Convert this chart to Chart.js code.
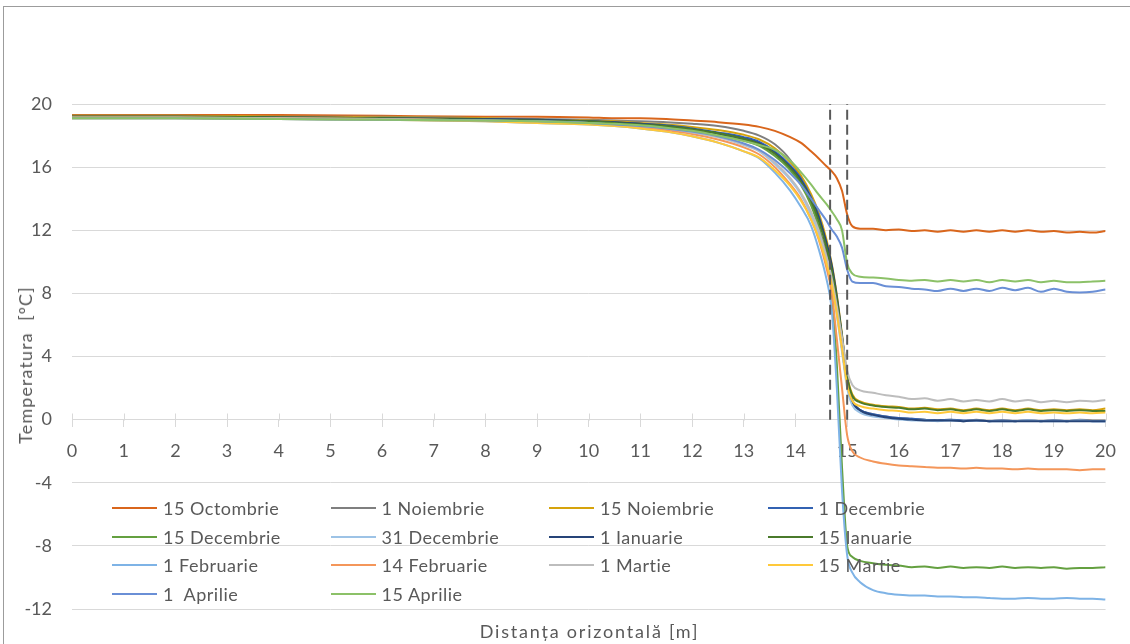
<!DOCTYPE html>
<html>
<head>
<meta charset="utf-8">
<script src="https://cdn.jsdelivr.net/npm/chart.js@4/dist/chart.umd.min.js"></script>
<style>
  html, body { margin: 0; padding: 0; background: #fff; overflow: hidden; }
  #wrap { position: relative; width: 1130px; height: 644px; }
  #frame { position: absolute; left: 3px; top: 6px; width: 1140px; height: 660px;
           border-left: 1px solid #9c9c9c; border-top: 1px solid #9c9c9c; box-sizing: border-box; }
  canvas { position: absolute; left: 0; top: 0; }
  #legend { position: absolute; left: 112px; top: 494px; display: grid;
            grid-template-columns: repeat(4, 218.5px); grid-auto-rows: 28.5px;
            font: 18px Lato, sans-serif; color: #595959; letter-spacing: 0.5px; }
  .item { display: flex; align-items: center; white-space: nowrap; }
  .swatch { width: 45px; height: 2px; margin-right: 6px; flex: none; }
  .axis-title { position: absolute; font: 18px Lato, sans-serif; color: #595959;
                white-space: pre; line-height: 22px; }
  #xTitle { left: 72px; width: 1035px; top: 620px; text-align: center; letter-spacing: 1.8px; }
  #yTitle { left: 25px; top: 365px; transform: translate(-50%, -50%) rotate(-90deg);
            letter-spacing: 1.1px; }
</style>
</head>
<body>
<div id="wrap">
  <div id="frame"></div>
  <canvas id="chart" width="1130" height="644"></canvas>
  <div id="legend"></div>
  <div id="xTitle" class="axis-title"></div>
  <div id="yTitle" class="axis-title"></div>
</div>
<script>
// Horizontal distance [m] at which temperatures are sampled
const distance = [0, 2, 4, 6, 8, 9, 10, 10.5, 11, 11.5, 12, 12.5, 13, 13.3, 13.6, 13.9, 14.1, 14.3, 14.45, 14.6,
  14.7, 14.8, 14.9, 15, 15.1, 15.25, 15.5, 15.75, 16, 16.25, 16.5, 16.75, 17, 17.25, 17.5, 17.75, 18, 18.25,
  18.5, 18.75, 19, 19.25, 19.5, 19.75, 20];

// Temperature profiles [°C] for each date
const t15Oct = [19.3,19.3,19.3,19.25,19.2, 19.2,19.15,19.1,19.1,19.05, 18.95,18.85,18.7,18.55,18.3,
  17.9,17.55,17.0,16.55,16.05, 15.75,15.3,14.5,13.0,12.25, 12.1,12.1,12.0,12.05,11.95,
  12.0,11.9,12.0,11.9,12.0, 11.9,12.0,11.9,12.0,11.9, 11.95,11.85,11.9,11.85,11.95];
const t1Nov = [19.25,19.25,19.2,19.2,19.1, 19.05,19.0,18.95,18.9,18.85, 18.75,18.6,18.3,18.0,17.45,
  16.45,15.3,13.8,12.2,10.6, 9.5,7.3,4.5,2.3,1.2, 0.6,0.35,0.2,0.1,0.05,
  0.0,-0.05,0.0,-0.1,0.0, -0.1,-0.05,-0.1,-0.05,-0.1, -0.05,-0.1,0.0,-0.05,-0.05];
const t15Nov = [19.25,19.25,19.2,19.15,19.1, 19.0,18.95,18.9,18.8,18.7, 18.55,18.35,18.05,17.75,17.2,
  16.3,15.5,14.3,13.1,11.4, 9.9,7.9,5.4,2.8,1.6, 1.15,0.95,0.85,0.8,0.7,
  0.75,0.65,0.7,0.6,0.7, 0.6,0.7,0.6,0.7,0.6, 0.65,0.6,0.65,0.6,0.7];
const t1Dec = [19.2,19.2,19.15,19.1,19.05, 19.0,18.9,18.85,18.75,18.65, 18.45,18.2,17.9,17.6,17.0,
  16.1,15.3,14.1,12.9,11.1, 9.6,7.5,5.0,2.4,1.1, 0.6,0.35,0.2,0.1,0.05,
  0.0,-0.05,0.0,-0.05,-0.05, -0.1,-0.05,-0.1,-0.05,-0.1, -0.05,-0.1,-0.05,-0.1,-0.1];
const t15Dec = [19.15,19.15,19.1,19.05,19.0, 18.95,18.85,18.8,18.7,18.55, 18.35,18.1,17.7,17.35,16.7,
  15.8,14.9,13.6,12.2,10.0, 8.0,3.5,-3.0,-8.0,-8.7, -8.95,-9.1,-9.2,-9.25,-9.35,
  -9.3,-9.4,-9.3,-9.4,-9.35, -9.4,-9.3,-9.4,-9.35,-9.4, -9.35,-9.45,-9.4,-9.4,-9.35];
const t31Dec = [19.15,19.15,19.1,19.05,18.95, 18.9,18.8,18.7,18.6,18.45, 18.2,17.9,17.4,17.0,16.2,
  15.2,14.3,13.0,11.8,10.0, 8.6,6.6,4.3,2.0,0.9, 0.45,0.2,0.1,0.0,-0.05,
  -0.05,-0.1,-0.05,-0.1,-0.05, -0.1,-0.1,-0.1,-0.05,-0.1, -0.1,-0.1,-0.05,-0.1,-0.1];
const t1Jan = [19.2,19.2,19.15,19.1,19.05, 19.0,18.9,18.85,18.75,18.6, 18.4,18.15,17.8,17.5,16.9,
  16.0,15.2,14.0,12.8,11.2, 9.8,7.8,5.3,2.6,1.2, 0.6,0.3,0.15,0.05,0.0,
  -0.05,-0.05,-0.05,-0.1,-0.05, -0.1,-0.1,-0.1,-0.1,-0.1, -0.1,-0.1,-0.1,-0.1,-0.1];
const t15Jan = [19.2,19.2,19.15,19.1,19.0, 18.95,18.9,18.8,18.7,18.6, 18.4,18.15,17.8,17.45,16.85,
  15.95,15.1,13.9,12.6,10.9, 9.5,7.6,5.2,2.7,1.5, 1.1,0.9,0.8,0.75,0.65,
  0.7,0.6,0.65,0.55,0.65, 0.55,0.65,0.55,0.65,0.55, 0.6,0.55,0.6,0.55,0.55];
const t1Feb = [19.1,19.1,19.05,19.0,18.9, 18.8,18.7,18.6,18.45,18.25, 17.95,17.55,17.0,16.55,15.65,
  14.5,13.5,12.3,10.8,8.9, 7.0,2.0,-4.5,-8.6,-9.7, -10.3,-10.8,-11.0,-11.1,-11.15,
  -11.15,-11.2,-11.2,-11.25,-11.25, -11.3,-11.35,-11.35,-11.3,-11.35, -11.35,-11.3,-11.35,-11.35,-11.4];
const t14Feb = [19.15,19.15,19.1,19.05,18.95, 18.85,18.75,18.65,18.55,18.35, 18.1,17.75,17.25,16.8,16.0,
  14.9,14.0,12.7,11.4,9.6, 8.1,5.1,2.0,-1.0,-2.0, -2.4,-2.65,-2.8,-2.9,-2.95,
  -3.0,-3.05,-3.05,-3.1,-3.05, -3.1,-3.1,-3.15,-3.1,-3.15, -3.15,-3.15,-3.2,-3.15,-3.15];
const t1Mar = [19.15,19.15,19.1,19.05,18.95, 18.9,18.8,18.7,18.6,18.45, 18.2,17.9,17.45,17.05,16.3,
  15.3,14.4,13.2,12.0,10.3, 9.0,7.2,5.2,3.1,2.2, 1.85,1.7,1.55,1.45,1.3,
  1.35,1.2,1.3,1.15,1.25, 1.15,1.3,1.15,1.25,1.1, 1.2,1.1,1.2,1.15,1.25];
const t15Mar = [19.1,19.1,19.05,19.0,18.9, 18.8,18.7,18.6,18.45,18.25, 17.95,17.55,17.0,16.6,15.8,
  14.8,13.9,12.7,11.5,9.9, 8.6,6.7,4.5,2.2,1.2, 0.85,0.7,0.6,0.55,0.45,
  0.5,0.4,0.5,0.4,0.5, 0.4,0.5,0.4,0.5,0.4, 0.45,0.4,0.45,0.4,0.45];
const t1Apr = [19.1,19.1,19.05,19.0,18.95, 18.9,18.8,18.7,18.6,18.45, 18.25,17.95,17.5,17.1,16.45,
  15.6,14.9,14.0,13.3,12.6, 12.05,11.6,10.9,9.5,8.75, 8.65,8.65,8.45,8.4,8.3,
  8.25,8.15,8.3,8.15,8.3, 8.15,8.35,8.2,8.35,8.1, 8.3,8.1,8.05,8.1,8.25];
const t15Apr = [19.1,19.1,19.05,19.0,18.95, 18.9,18.8,18.75,18.65,18.5, 18.3,18.0,17.65,17.4,17.1,
  16.4,15.7,14.9,14.25,13.65, 13.2,12.7,12.0,9.9,9.25, 9.05,9.0,8.95,8.85,8.8,
  8.85,8.75,8.85,8.75,8.85, 8.7,8.85,8.75,8.85,8.7, 8.8,8.7,8.7,8.75,8.8];

const seriesNames = ['15 Octombrie', '1 Noiembrie', '15 Noiembrie', '1 Decembrie', '15 Decembrie',
  '31 Decembrie', '1 Ianuarie', '15 Ianuarie', '1 Februarie', '14 Februarie', '1 Martie',
  '15 Martie', '1  Aprilie', '15 Aprilie'];
const seriesValues = [t15Oct, t1Nov, t15Nov, t1Dec, t15Dec, t31Dec, t1Jan, t15Jan, t1Feb, t14Feb,
  t1Mar, t15Mar, t1Apr, t15Apr];
const seriesColors = ['#D9661C', '#7F7F7F', '#D6A30C', '#3262B2', '#64A040', '#9DC3E6', '#264478',
  '#4A7A2B', '#7EB3E6', '#F4965A', '#BDBDBD', '#FFC93A', '#6A8FD6', '#8CC168'];

// Wall boundaries marked with dashed verticals [m]
const boundaries = [14.67, 15];
const boundaryRange = [0, 20];

// Y axis ticks
const yMin = -12, yMax = 20, yStep = 4;

const xAxisTitle = 'Distanța orizontală [m]';
const yAxisTitle = 'Temperatura  [ºC]';

const textColor = '#595959';
const gridColor = '#D9D9D9';

const datasets = seriesValues.map((vals, i) => ({
  label: seriesNames[i],
  data: vals.map((v, k) => ({ x: distance[k], y: v })),
  borderColor: seriesColors[i],
  backgroundColor: seriesColors[i],
  borderWidth: 2,
  pointRadius: 0,
  fill: false,
  cubicInterpolationMode: 'monotone',
  order: seriesValues.length - i
}));

boundaries.forEach(b => {
  datasets.push({
    label: '',
    data: boundaryRange.map(v => ({ x: b, y: v })),
    borderColor: '#595959',
    borderWidth: 2,
    borderDash: [10, 5],
    pointRadius: 0,
    fill: false,
    order: 0
  });
});

// Excel-style "cross" tick marks on the horizontal axis (upper half; lower half drawn by the scale)
const crossTicks = {
  id: 'crossTicks',
  beforeDatasetsDraw(chart) {
    const xs = chart.scales.x, ys = chart.scales.y;
    const y0 = Math.round(ys.getPixelForValue(0)) + 0.5;
    const ctx = chart.ctx;
    ctx.save();
    ctx.strokeStyle = gridColor;
    ctx.lineWidth = 1;
    ctx.beginPath();
    xs.ticks.forEach(t => {
      const px = Math.round(xs.getPixelForValue(t.value)) + 0.5;
      ctx.moveTo(px, y0 - 7);
      ctx.lineTo(px, y0);
    });
    ctx.stroke();
    ctx.restore();
  }
};

function draw() {
  Chart.defaults.font.family = 'Lato, sans-serif';
  Chart.defaults.font.size = 18;
  Chart.defaults.color = textColor;

  const chart = new Chart(document.getElementById('chart'), {
    type: 'line',
    data: { datasets },
    options: {
      responsive: false,
      animation: false,
      devicePixelRatio: 1,
      events: [],
      layout: { padding: { left: 4, right: 23, top: 104, bottom: 35 } },
      plugins: {
        legend: { display: false },
        tooltip: { enabled: false }
      },
      scales: {
        x: {
          type: 'linear',
          position: { y: 0 },
          min: 0, max: 20,
          ticks: { stepSize: 1, padding: 14, color: textColor, font: { size: 18 } },
          grid: { drawOnChartArea: false, drawTicks: true, tickLength: 7, color: gridColor },
          border: { display: true, color: gridColor }
        },
        y: {
          type: 'linear',
          min: yMin, max: yMax,
          afterFit(scale) { scale.width = 68; },
          ticks: { stepSize: yStep, padding: 20, color: textColor, font: { size: 18 } },
          grid: { color: gridColor, drawTicks: false },
          border: { display: false }
        }
      }
    },
    plugins: [crossTicks]
  });

  // Axis titles
  document.getElementById('xTitle').textContent = xAxisTitle;
  document.getElementById('yTitle').textContent = yAxisTitle;

  // Legend built from the chart's series
  const legend = document.getElementById('legend');
  chart.data.datasets.slice(0, seriesNames.length).forEach(ds => {
    const item = document.createElement('div');
    item.className = 'item';
    const sw = document.createElement('span');
    sw.className = 'swatch';
    sw.style.background = ds.borderColor;
    const label = document.createElement('span');
    label.textContent = ds.label;
    label.style.whiteSpace = 'pre';
    item.appendChild(sw);
    item.appendChild(label);
    legend.appendChild(item);
  });
}

if (document.fonts && document.fonts.load) {
  document.fonts.load('18px Lato').then(draw, draw);
} else {
  draw();
}
</script>
</body>
</html>
